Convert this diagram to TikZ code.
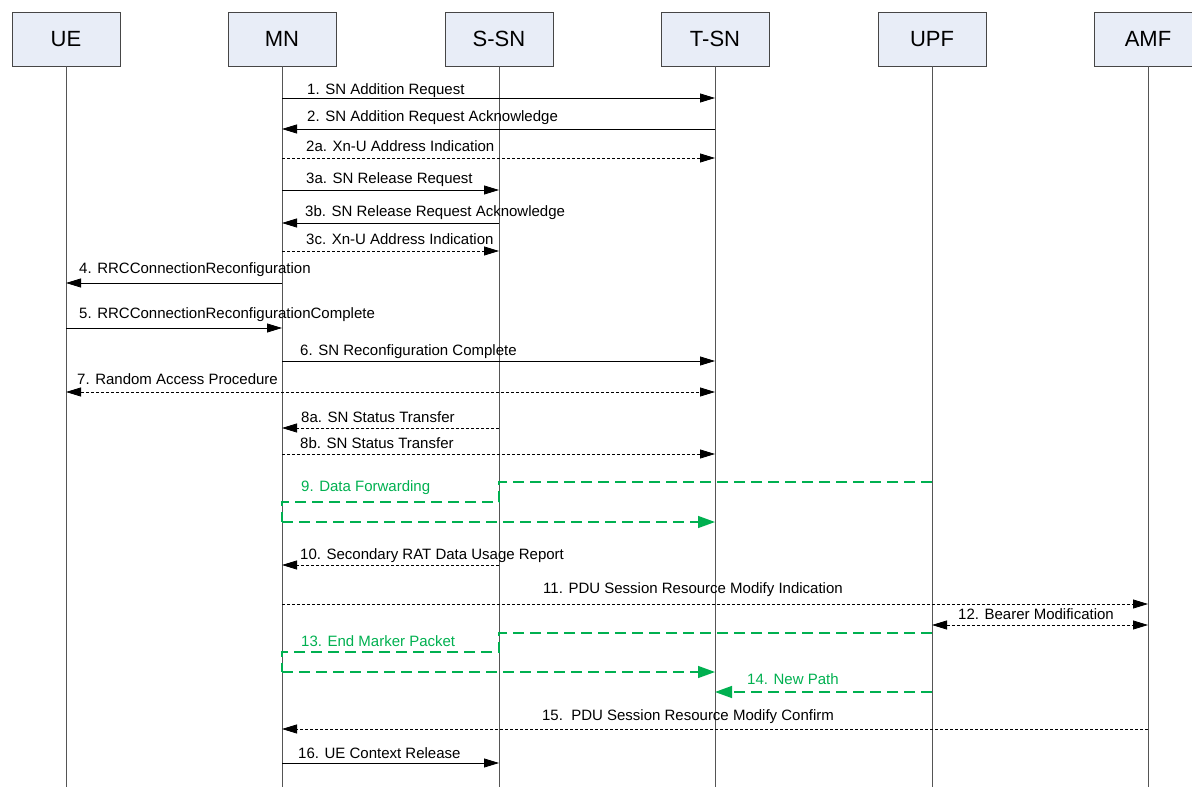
\documentclass[tikz,border=0pt]{standalone}
\usepackage{fontspec}
\setmainfont{Liberation Sans}
\usetikzlibrary{arrows.meta}
\definecolor{boxfill}{RGB}{232,237,247}
\definecolor{boxline}{RGB}{70,70,70}
\definecolor{lifeline}{RGB}{85,85,85}
\definecolor{dgreen}{RGB}{0,176,80}
\begin{document}
\begin{tikzpicture}[x=1pt,y=-1pt,
  entity/.style={draw=boxline,fill=boxfill,line width=0.8pt,minimum width=108pt,minimum height=54pt,inner sep=0pt,font=\fontsize{22}{26}\selectfont},
  life/.style={draw=lifeline,line width=0.9pt},
  msg/.style={draw=black,line width=0.8pt,-{Triangle[length=15pt,width=9pt]}},
  dmsg/.style={msg,dash pattern=on 3pt off 2pt},
  bmsg/.style={draw=black,line width=0.8pt,dash pattern=on 3pt off 2pt,{Triangle[length=15pt,width=9pt]}-{Triangle[length=15pt,width=9pt]}},
  gpath/.style={draw=dgreen,line width=1.4pt,dash pattern=on 11pt off 6pt},
  garrow/.style={gpath,-{Triangle[length=17pt,width=12pt]}},
  lbl/.style={anchor=base west,inner sep=0pt,font=\fontsize{15}{18}\selectfont},
  clbl/.style={anchor=base,inner sep=0pt,font=\fontsize{15}{18}\selectfont},
  glbl/.style={lbl,text=dgreen}]
\useasboundingbox (0,0) rectangle (1192,787);
% entities
\node[entity] (UE)  at (66,39)   {UE};
\node[entity] (MN)  at (282,39)  {MN};
\node[entity] (SSN) at (499,39)  {S-SN};
\node[entity] (TSN) at (715,39)  {T-SN};
\node[entity] (UPF) at (932,39)  {UPF};
\node[entity] (AMF) at (1148,39) {AMF};
% lifeline ends
\foreach \n in {UE,MN,SSN,TSN,UPF,AMF}{
  \coordinate (\n end) at (\n |- 0,787);
  \draw[life] (\n.south) -- (\n end);
}
% messages
\draw[msg]  (MN |- 0,98)  -- (TSN |- 0,98);
\node[lbl] (l1) at (307,94.5) {1. SN Addition Request};
\draw[msg]  (TSN |- 0,129) -- (MN |- 0,129);
\node[lbl] (l2) at (307,121.5) {2. SN Addition Request Acknowledge};
\draw[dmsg] (MN |- 0,158) -- (TSN |- 0,158);
\node[lbl] (l2a) at (306,151.5) {2a. Xn-U Address Indication};
\draw[msg]  (MN |- 0,190) -- (SSN |- 0,190);
\node[lbl] (l3a) at (306,183.5) {3a. SN Release Request};
\draw[msg]  (SSN |- 0,223) -- (MN |- 0,223);
\node[lbl] (l3b) at (305,216.5) {3b. SN Release Request Acknowledge};
\draw[dmsg] (MN |- 0,251) -- (SSN |- 0,251);
\node[lbl] (l3c) at (306,244) {3c. Xn-U Address Indication};
\draw[msg]  (MN |- 0,283) -- (UE |- 0,283);
\node[lbl] (l4) at (79,273) {4. RRCConnectionReconfiguration};
\draw[msg]  (UE |- 0,328) -- (MN |- 0,328);
\node[lbl] (l5) at (79,318.5) {5. RRCConnectionReconfigurationComplete};
\draw[msg]  (MN |- 0,361) -- (TSN |- 0,361);
\node[lbl] (l6) at (300,355.5) {6. SN Reconfiguration Complete};
\draw[bmsg] (UE |- 0,392) -- (TSN |- 0,392);
\node[lbl] (l7) at (77,384) {7. Random Access Procedure};
\draw[dmsg] (SSN |- 0,428) -- (MN |- 0,428);
\node[lbl] (l8a) at (301,422) {8a. SN Status Transfer};
\draw[dmsg] (MN |- 0,454) -- (TSN |- 0,454);
\node[lbl] (l8b) at (300,448) {8b. SN Status Transfer};
% 9 data forwarding
\draw[gpath] (UPF |- 0,482) -- (SSN |- 0,482) -- (SSN |- 0,502) -- (MN |- 0,502) -- (MN |- 0,522);
\draw[garrow] (MN |- 0,522) -- (TSN |- 0,522);
\node[glbl] (l9) at (301,491.5) {9. Data Forwarding};
\draw[dmsg] (SSN |- 0,565) -- (MN |- 0,565);
\node[lbl] (l10) at (300,559.5) {10. Secondary RAT Data Usage Report};
\draw[dmsg] (MN |- 0,604) -- (AMF |- 0,604);
\node[clbl] (l11) at (693,593.5) {11. PDU Session Resource Modify Indication};
\draw[bmsg] (UPF |- 0,625) -- (AMF |- 0,625);
\node[clbl] (l12) at (1036,619.5) {12. Bearer Modification};
% 13 end marker
\draw[gpath] (UPF |- 0,633) -- (SSN |- 0,633) -- (SSN |- 0,652) -- (MN |- 0,652) -- (MN |- 0,672);
\draw[garrow] (MN |- 0,672) -- (TSN |- 0,672);
\node[glbl] (l13) at (301,646.5) {13. End Marker Packet};
% 14 new path
\draw[garrow] (UPF |- 0,692) -- (TSN |- 0,692);
\node[glbl] (l14) at (747,684.5) {14. New Path};
\draw[dmsg] (AMF |- 0,729) -- (MN |- 0,729);
\node[clbl] (l15) at (688,720.5) {15.\ \ PDU Session Resource Modify Confirm};
\draw[msg]  (MN |- 0,763) -- (SSN |- 0,763);
\node[lbl] (l16) at (298,758.5) {16. UE Context Release};
\end{tikzpicture}
\end{document}
